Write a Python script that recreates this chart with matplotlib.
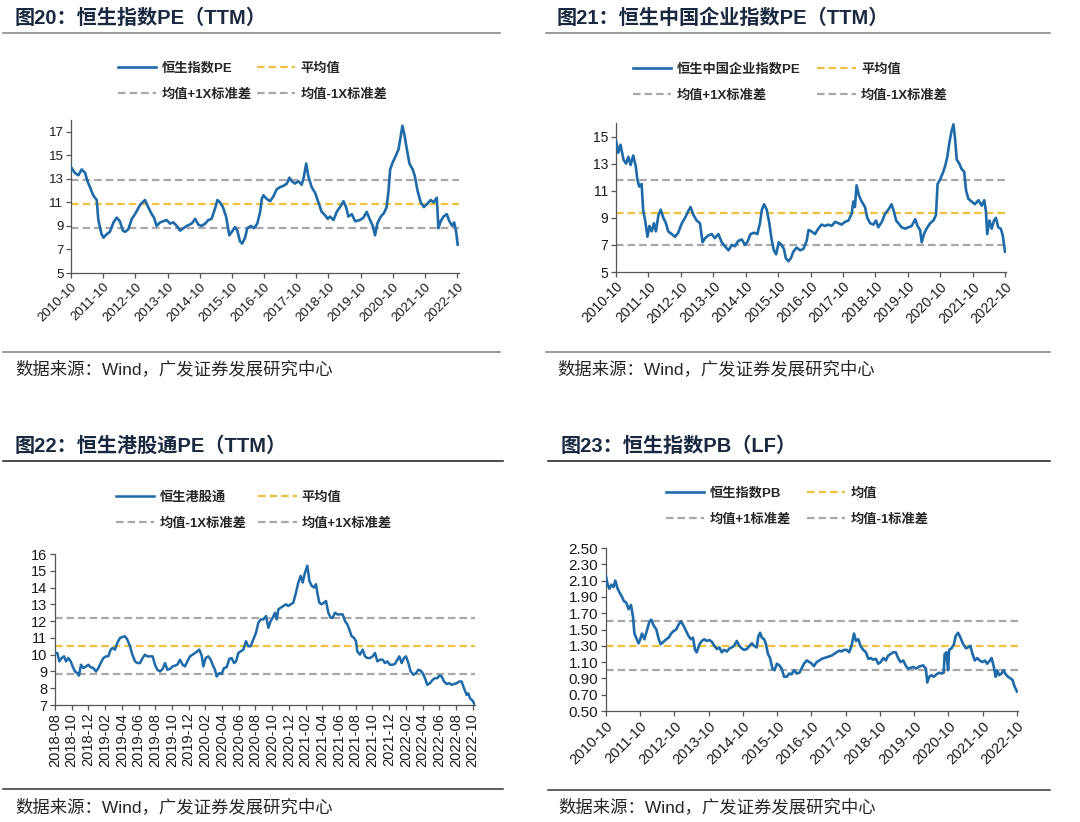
import matplotlib
matplotlib.use("Agg")
import matplotlib.pyplot as plt
from matplotlib.lines import Line2D

plt.rcParams["font.family"] = ["Liberation Sans", "Noto Sans CJK SC", "DejaVu Sans"]

# ---------------- data ----------------
# 图20 恒生指数PE(TTM), x = 年份(小数)
hsi_pe_t = [2010.75, 2010.87, 2010.98, 2011.08, 2011.19, 2011.26, 2011.34, 2011.44, 2011.55, 2011.60,
            2011.70, 2011.76, 2011.86, 2011.96, 2012.07, 2012.17, 2012.27, 2012.36, 2012.43, 2012.53,
            2012.64, 2012.74, 2012.90, 2013.05, 2013.15, 2013.26, 2013.33, 2013.41, 2013.52, 2013.62,
            2013.72, 2013.83, 2013.93, 2014.04, 2014.14, 2014.24, 2014.35, 2014.50, 2014.61, 2014.71,
            2014.81, 2014.92, 2015.02, 2015.12, 2015.23, 2015.30, 2015.38, 2015.47, 2015.57, 2015.67,
            2015.75, 2015.85, 2015.92, 2016.00, 2016.07, 2016.16, 2016.23, 2016.34, 2016.44, 2016.54,
            2016.63, 2016.68, 2016.73, 2016.83, 2016.94, 2017.04, 2017.14, 2017.25, 2017.35, 2017.46,
            2017.54, 2017.61, 2017.71, 2017.82, 2017.92, 2017.99, 2018.06, 2018.13, 2018.23, 2018.34,
            2018.44, 2018.54, 2018.65, 2018.73, 2018.80, 2018.91, 2019.01, 2019.11, 2019.22, 2019.30,
            2019.37, 2019.48, 2019.58, 2019.73, 2019.84, 2019.94, 2020.03, 2020.13, 2020.20, 2020.27,
            2020.38, 2020.48, 2020.56, 2020.62, 2020.67, 2020.75, 2020.82, 2020.93, 2020.98, 2021.05,
            2021.11, 2021.19, 2021.27, 2021.37, 2021.44, 2021.52, 2021.62, 2021.72, 2021.83, 2021.93,
            2022.02, 2022.12, 2022.17, 2022.24, 2022.33, 2022.43, 2022.51, 2022.60, 2022.66, 2022.72,
            2022.77]
hsi_pe = [14.0, 13.5, 13.3, 13.8, 13.5, 12.8, 12.3, 11.6, 11.2, 9.5,
          8.3, 8.0, 8.3, 8.5, 9.3, 9.7, 9.4, 8.6, 8.5, 8.7,
          9.6, 10.0, 10.8, 11.2, 10.6, 10.0, 9.7, 9.0, 9.3, 9.4,
          9.5, 9.2, 9.3, 9.0, 8.6, 8.8, 9.0, 9.2, 9.6, 9.1,
          9.0, 9.2, 9.5, 9.6, 10.5, 11.2, 11.0, 10.6, 9.8, 8.2,
          8.5, 8.9, 8.6, 7.7, 7.5, 8.0, 8.8, 9.0, 8.8, 9.2,
          10.2, 11.3, 11.6, 11.3, 11.1, 11.5, 12.1, 12.3, 12.4, 12.6,
          13.1, 12.8, 12.6, 12.8, 12.5, 13.2, 14.3, 13.2, 12.3, 11.8,
          11.0, 10.2, 9.9, 9.6, 9.8, 9.5, 10.2, 10.6, 11.1, 10.6,
          9.8, 10.0, 9.4, 9.5, 9.7, 10.2, 9.6, 9.0, 8.2, 9.2,
          9.8, 10.1, 10.6, 12.0, 13.8, 14.4, 14.8, 15.5, 16.3, 17.5,
          16.8, 15.5, 14.3, 13.8, 13.2, 12.0, 11.0, 10.6, 10.9, 11.2,
          11.0, 11.4, 8.8, 9.4, 9.8, 10.0, 9.4, 9.0, 9.3, 8.5,
          7.4]
hsi_pe_stats = [10.86, 12.92, 8.85]   # 均值, +1X, -1X

# 图21 恒生中国企业指数PE(TTM)
hscei_t = [2010.75, 2010.82, 2010.89, 2010.98, 2011.06, 2011.13, 2011.20, 2011.28, 2011.36, 2011.41,
           2011.47, 2011.54, 2011.59, 2011.65, 2011.72, 2011.78, 2011.85, 2011.92, 2011.98, 2012.06,
           2012.13, 2012.21, 2012.29, 2012.36, 2012.47, 2012.57, 2012.67, 2012.78, 2012.88, 2012.98,
           2013.05, 2013.14, 2013.24, 2013.34, 2013.42, 2013.50, 2013.60, 2013.70, 2013.80, 2013.91,
           2014.01, 2014.11, 2014.22, 2014.32, 2014.42, 2014.52, 2014.63, 2014.73, 2014.80, 2014.90,
           2015.01, 2015.11, 2015.19, 2015.25, 2015.32, 2015.40, 2015.48, 2015.55, 2015.62, 2015.69,
           2015.77, 2015.85, 2015.93, 2015.99, 2016.07, 2016.14, 2016.22, 2016.32, 2016.43, 2016.53,
           2016.63, 2016.69, 2016.78, 2016.89, 2016.99, 2017.09, 2017.20, 2017.30, 2017.40, 2017.51,
           2017.61, 2017.71, 2017.81, 2017.92, 2018.02, 2018.07, 2018.12, 2018.17, 2018.25, 2018.33,
           2018.43, 2018.50, 2018.59, 2018.69, 2018.77, 2018.84, 2018.95, 2019.05, 2019.15, 2019.25,
           2019.33, 2019.39, 2019.46, 2019.56, 2019.67, 2019.77, 2019.87, 2019.98, 2020.05, 2020.13,
           2020.18, 2020.25, 2020.33, 2020.44, 2020.54, 2020.62, 2020.67, 2020.74, 2020.83, 2020.90,
           2020.97, 2021.03, 2021.10, 2021.16, 2021.21, 2021.26, 2021.34, 2021.41, 2021.49, 2021.55,
           2021.62, 2021.72, 2021.82, 2021.93, 2022.03, 2022.11, 2022.16, 2022.20, 2022.27, 2022.34,
           2022.41, 2022.47, 2022.54, 2022.62, 2022.68, 2022.75]
hscei_pe = [14.7, 13.8, 14.4, 13.3, 13.0, 13.5, 12.9, 13.6, 12.8, 11.8,
            11.3, 11.5, 9.5, 8.8, 7.6, 8.4, 8.0, 8.6, 8.0, 9.2,
            9.6, 9.0, 8.6, 8.0, 7.8, 7.6, 7.9, 8.6, 9.0, 9.5,
            9.8, 9.2, 8.8, 8.6, 7.2, 7.5, 7.7, 7.8, 7.5, 7.8,
            7.2, 6.9, 6.6, 7.0, 6.9, 7.3, 7.4, 7.0, 7.2, 7.8,
            7.9, 7.8, 8.6, 9.6, 10.0, 9.6, 8.6, 7.4, 6.6, 6.3,
            7.2, 7.0, 6.7, 6.0, 5.8, 6.0, 6.5, 6.8, 6.6, 6.7,
            7.3, 8.1, 8.0, 7.8, 8.2, 8.5, 8.4, 8.5, 8.4, 8.7,
            8.6, 8.5, 8.7, 8.8, 9.3, 10.2, 9.8, 11.4, 10.6, 10.2,
            9.8, 9.0, 8.6, 8.5, 8.8, 8.3, 8.7, 9.3, 9.6, 10.0,
            9.4, 8.8, 8.6, 8.3, 8.2, 8.3, 8.4, 8.9, 8.4, 8.1,
            7.2, 7.8, 8.2, 8.6, 8.8, 9.2, 11.5, 11.8, 12.3, 12.8,
            13.5, 14.5, 15.4, 15.9, 14.8, 13.3, 13.0, 12.6, 12.4, 11.0,
            10.4, 10.2, 10.0, 10.3, 9.9, 10.3, 9.5, 7.8, 8.8, 8.2,
            8.8, 9.0, 8.3, 8.2, 7.7, 6.5]
hscei_stats = [9.37, 11.78, 6.97]

# 图22 恒生港股通PE(TTM), x = 自2018-08起的月数
hk_months = [0.00, 0.28, 0.52, 0.80, 1.08, 1.32, 1.60, 1.88, 2.11, 2.39,
             2.67, 2.87, 3.11, 3.39, 3.71, 3.99, 4.27, 4.59, 4.91, 5.19,
             5.47, 5.79, 6.11, 6.38, 6.66, 6.90, 7.18, 7.46, 7.78, 8.10,
             8.38, 8.66, 8.98, 9.26, 9.58, 9.86, 10.18, 10.49, 10.77, 11.05,
             11.37, 11.69, 11.97, 12.25, 12.57, 12.89, 13.17, 13.45, 13.77, 14.09,
             14.37, 14.64, 14.96, 15.28, 15.56, 15.84, 16.16, 16.48, 16.76, 17.04,
             17.28, 17.56, 17.76, 18.04, 18.36, 18.64, 18.87, 19.15, 19.35, 19.67,
             19.95, 20.23, 20.55, 20.87, 21.15, 21.43, 21.67, 21.95, 22.23, 22.55,
             22.86, 23.14, 23.42, 23.74, 24.06, 24.34, 24.62, 24.94, 25.26, 25.54,
             25.82, 26.06, 26.34, 26.54, 26.74, 27.02, 27.33, 27.65, 27.93, 28.21,
             28.53, 28.85, 29.13, 29.41, 29.65, 29.93, 30.21, 30.45, 30.73, 31.01,
             31.24, 31.40, 31.64, 31.92, 32.20, 32.44, 32.72, 33.00, 33.24, 33.52,
             33.80, 34.12, 34.44, 34.72, 35.00, 35.24, 35.51, 35.79, 36.03, 36.19,
             36.51, 36.83, 37.11, 37.39, 37.71, 38.03, 38.31, 38.59, 38.91, 39.23,
             39.50, 39.78, 40.10, 40.42, 40.70, 40.98, 41.22, 41.50, 41.78, 42.02,
             42.30, 42.58, 42.90, 43.22, 43.50, 43.77, 44.01, 44.29, 44.57, 44.89,
             45.21, 45.49, 45.77, 46.01, 46.29, 46.57, 46.89, 47.21, 47.49, 47.77,
             48.09, 48.40, 48.68, 48.96, 49.28, 49.48, 49.68, 50.00, 50.28]
hk_pe = [10.1, 10.1, 9.6, 9.8, 9.9, 9.6, 9.8, 9.6, 9.3, 9.0,
         8.9, 8.75, 9.4, 9.2, 9.3, 9.4, 9.25, 9.2, 9.0, 9.2,
         9.5, 9.8, 9.9, 9.9, 10.3, 10.4, 10.3, 10.7, 11.0, 11.05,
         11.1, 10.9, 10.5, 10.0, 9.6, 9.5, 9.5, 9.8, 10.0, 9.9,
         9.9, 9.9, 9.4, 9.1, 9.0, 9.15, 9.5, 9.1, 9.15, 9.3,
         9.35, 9.4, 9.7, 9.4, 9.3, 9.6, 9.9, 10.0, 10.1, 10.2,
         10.3, 9.95, 9.3, 9.8, 9.9, 9.7, 9.4, 9.1, 8.7, 8.9,
         8.85, 9.2, 9.25, 9.75, 9.8, 9.5, 9.6, 10.1, 10.2, 10.3,
         10.8, 10.5, 10.5, 10.9, 11.3, 11.9, 12.1, 12.1, 12.3, 11.6,
         12.0, 12.2, 12.5, 12.1, 12.7, 12.8, 12.9, 13.0, 12.9, 13.0,
         13.1, 13.7, 14.3, 14.7, 14.3, 14.9, 15.3, 14.4, 14.1, 14.0,
         14.2, 13.7, 13.1, 13.0, 13.1, 13.2, 12.5, 12.2, 12.2, 12.5,
         12.4, 12.4, 12.4, 12.0, 11.8, 11.5, 11.1, 11.0, 10.8, 10.2,
         10.0, 10.3, 9.9, 9.8, 9.8, 9.9, 10.1, 9.6, 9.7, 9.7,
         9.5, 9.6, 9.4, 9.4, 9.45, 9.7, 9.9, 9.5, 9.8, 9.9,
         9.5, 9.0, 8.8, 8.9, 9.1, 9.05, 8.9, 8.6, 8.2, 8.3,
         8.5, 8.6, 8.6, 8.75, 8.7, 8.4, 8.25, 8.3, 8.2, 8.25,
         8.3, 8.4, 8.4, 8.0, 7.6, 7.7, 7.4, 7.25, 7.0]
hk_stats = [10.52, 12.19, 8.85]

# 图23 恒生指数PB(LF)
hsi_pb_t = [2010.75, 2010.80, 2010.85, 2010.91, 2010.97, 2011.02, 2011.09, 2011.15, 2011.22, 2011.27,
            2011.34, 2011.41, 2011.48, 2011.54, 2011.58, 2011.63, 2011.70, 2011.75, 2011.80, 2011.87,
            2011.95, 2012.02, 2012.07, 2012.14, 2012.22, 2012.29, 2012.35, 2012.43, 2012.51, 2012.58,
            2012.65, 2012.72, 2012.80, 2012.87, 2012.94, 2013.01, 2013.09, 2013.16, 2013.23, 2013.29,
            2013.35, 2013.40, 2013.48, 2013.55, 2013.62, 2013.69, 2013.77, 2013.84, 2013.91, 2013.99,
            2014.06, 2014.13, 2014.20, 2014.28, 2014.36, 2014.42, 2014.49, 2014.57, 2014.64, 2014.71,
            2014.78, 2014.86, 2014.94, 2015.01, 2015.07, 2015.15, 2015.20, 2015.25, 2015.30, 2015.37,
            2015.42, 2015.48, 2015.54, 2015.61, 2015.67, 2015.74, 2015.81, 2015.88, 2015.95, 2016.03,
            2016.10, 2016.17, 2016.24, 2016.32, 2016.40, 2016.46, 2016.53, 2016.61, 2016.69, 2016.76,
            2016.82, 2016.90, 2016.98, 2017.05, 2017.12, 2017.19, 2017.27, 2017.34, 2017.41, 2017.48,
            2017.56, 2017.63, 2017.70, 2017.78, 2017.85, 2017.92, 2017.99, 2018.05, 2018.12, 2018.18,
            2018.26, 2018.34, 2018.41, 2018.48, 2018.55, 2018.63, 2018.70, 2018.77, 2018.85, 2018.92,
            2018.99, 2019.06, 2019.14, 2019.21, 2019.28, 2019.35, 2019.43, 2019.51, 2019.57, 2019.64,
            2019.72, 2019.80, 2019.87, 2019.93, 2020.01, 2020.09, 2020.13, 2020.19, 2020.25, 2020.32,
            2020.40, 2020.48, 2020.55, 2020.61, 2020.64, 2020.69, 2020.74, 2020.77, 2020.84, 2020.91,
            2020.96, 2021.03, 2021.10, 2021.18, 2021.26, 2021.32, 2021.39, 2021.45, 2021.52, 2021.59,
            2021.66, 2021.74, 2021.81, 2021.88, 2021.96, 2022.01, 2022.07, 2022.13, 2022.17, 2022.23,
            2022.30, 2022.36, 2022.42, 2022.49, 2022.56, 2022.62, 2022.68, 2022.75]
hsi_pb = [2.15, 2.05, 2.0, 2.05, 2.02, 2.10, 2.0, 1.95, 1.9, 1.85,
          1.83, 1.75, 1.8, 1.65, 1.45, 1.4, 1.33, 1.38, 1.45, 1.38,
          1.5, 1.6, 1.62, 1.55, 1.5, 1.38, 1.32, 1.35, 1.38, 1.4,
          1.45, 1.48, 1.5, 1.56, 1.6, 1.55, 1.48, 1.42, 1.38, 1.4,
          1.25, 1.22, 1.32, 1.36, 1.38, 1.36, 1.37, 1.35, 1.3, 1.26,
          1.28, 1.22, 1.25, 1.23, 1.27, 1.28, 1.3, 1.36, 1.3, 1.27,
          1.25, 1.26, 1.3, 1.33, 1.3, 1.28, 1.42, 1.46, 1.4, 1.38,
          1.32, 1.2, 1.15, 1.02, 1.0, 1.08, 1.06, 1.02, 0.92, 0.92,
          0.96, 0.95, 1.0, 0.96, 0.97, 1.02, 1.08, 1.12, 1.1, 1.08,
          1.05, 1.1, 1.12, 1.14, 1.15, 1.16, 1.17, 1.18, 1.2, 1.22,
          1.24, 1.23, 1.25, 1.25, 1.22, 1.3, 1.45, 1.36, 1.38, 1.3,
          1.25, 1.22, 1.14, 1.15, 1.13, 1.14, 1.08, 1.1, 1.15, 1.12,
          1.18, 1.2, 1.22, 1.22, 1.15, 1.1, 1.12, 1.05, 1.02, 1.03,
          1.04, 1.02, 1.04, 1.05, 1.06, 1.02, 0.85, 0.92, 0.94, 0.92,
          0.95, 0.97, 0.96, 0.97, 1.2, 1.22, 1.0, 1.25, 1.27, 1.32,
          1.42, 1.46, 1.4, 1.32, 1.27, 1.28, 1.3, 1.2, 1.12, 1.15,
          1.12, 1.1, 1.12, 1.08, 1.12, 1.15, 1.05, 0.92, 1.0, 0.94,
          0.96, 1.0, 0.95, 0.92, 0.9, 0.88, 0.8, 0.74]
hsi_pb_stats = [1.30, 1.60, 1.00]

year_labels = ["2010-10", "2011-10", "2012-10", "2013-10", "2014-10", "2015-10", "2016-10",
               "2017-10", "2018-10", "2019-10", "2020-10", "2021-10", "2022-10"]
year_ticks = [2010.75 + i for i in range(len(year_labels))]
hk_labels = ["2018-08", "2018-10", "2018-12", "2019-02", "2019-04", "2019-06", "2019-08",
             "2019-10", "2019-12", "2020-02", "2020-04", "2020-06", "2020-08", "2020-10",
             "2020-12", "2021-02", "2021-04", "2021-06", "2021-08", "2021-10", "2021-12",
             "2022-02", "2022-04", "2022-06", "2022-08", "2022-10"]
hk_ticks = [2 * i for i in range(len(hk_labels))]

titles = ["图20：恒生指数PE（TTM）", "图21：恒生中国企业指数PE（TTM）",
          "图22：恒生港股通PE（TTM）", "图23：恒生指数PB（LF）"]
source = "数据来源：Wind，广发证券发展研究中心"

# ---------------- drawing ----------------
W, H = 1080, 822
fig = plt.figure(figsize=(W / 100, H / 100), dpi=100)

BLUE = "#1f6aa8"
GOLD = "#f0c240"
GREY = "#a8a8a8"
AXC = "#555555"
NAVY = "#1a2940"
DASH = (0, (3.4, 1.8))


def rect(l, t, r, b):
    return [l / W, 1 - b / H, (r - l) / W, (b - t) / H]


def rule(x0, x1, y, color):
    fig.add_artist(Line2D([x0 / W, x1 / W], [1 - y / H, 1 - y / H],
                          transform=fig.transFigure, color=color, lw=1.1))


def panel(box, x, y, stats, xlim, ylim, yticks, ylabels, xticks, xlabels, rot, fs, yfs, lw):
    ax = fig.add_axes(rect(*box))
    line, = ax.plot(x, y, color=BLUE, lw=lw, zorder=3, solid_joinstyle="round")
    mean = ax.axhline(stats[0], color=GOLD, lw=1.6, ls=DASH, zorder=2)
    up = ax.axhline(stats[1], color=GREY, lw=1.6, ls=DASH, zorder=2)
    dn = ax.axhline(stats[2], color=GREY, lw=1.6, ls=DASH, zorder=2)
    ax.set_xlim(*xlim)
    ax.set_ylim(*ylim)
    ax.set_yticks(yticks)
    ax.set_yticklabels(ylabels)
    ax.set_xticks(xticks)
    if rot == 45:
        ax.set_xticklabels(xlabels, rotation=45, ha="right", rotation_mode="anchor")
    else:
        ax.set_xticklabels(xlabels, rotation=90)
    for s in ["top", "right"]:
        ax.spines[s].set_visible(False)
    for s in ["left", "bottom"]:
        ax.spines[s].set_color(AXC)
        ax.spines[s].set_linewidth(0.9)
    ax.tick_params(direction="out", length=3.5, width=0.9, color=AXC,
                   labelsize=fs, labelcolor="#1a1a1a", pad=2)
    ax.tick_params(axis="y", labelsize=yfs)
    return ax, line, mean, up, dn


def legend(ax, handles, labels, x, y, colsp):
    ax.legend(handles, labels, ncol=2, loc="upper left",
              bbox_to_anchor=(x / W, 1 - y / H), bbox_transform=fig.transFigure,
              frameon=False, prop={"size": 9.5, "weight": "bold"}, handlelength=2.9,
              handletextpad=0.4, columnspacing=colsp, labelspacing=1.05,
              borderpad=0, borderaxespad=0, labelcolor="#262626")


pe_ylab = lambda ticks: [str(t) for t in ticks]

# 图20
t20 = list(range(5, 18, 2))
ax, ln, mn, up, dn = panel((71, 120, 459, 273), hsi_pe_t, hsi_pe, hsi_pe_stats,
                           (2010.75, 2022.81), (5, 18), t20, pe_ylab(t20),
                           year_ticks, year_labels, 45, 9.5, 9.5, 1.9)
legend(ax, [ln, up, mn, dn], ["恒生指数PE", "均值+1X标准差", "平均值", "均值-1X标准差"],
       118, 62, 0.4)

# 图21
t21 = list(range(5, 16, 2))
ax, ln, mn, up, dn = panel((616, 123, 1006, 272), hscei_t, hscei_pe, hscei_stats,
                           (2010.75, 2022.78), (5, 16), t21, pe_ylab(t21),
                           year_ticks, year_labels, 45, 10, 10, 1.9)
legend(ax, [ln, up, mn, dn], ["恒生中国企业指数PE", "均值+1X标准差", "平均值", "均值-1X标准差"],
       633, 63, 1.3)

# 图22
t22 = list(range(7, 17))
ax, ln, mn, up, dn = panel((55, 554, 475, 705), hk_months, hk_pe, hk_stats,
                           (0, 50.28), (7, 16), t22, pe_ylab(t22),
                           hk_ticks, hk_labels, 90, 10.5, 10.5, 1.8)
legend(ax, [ln, dn, mn, up], ["恒生港股通", "均值-1X标准差", "平均值", "均值+1X标准差"],
       116, 491, 0.9)

# 图23
t23 = [0.5 + 0.2 * i for i in range(11)]
ax, ln, mn, up, dn = panel((606, 548, 1018, 711), hsi_pb_t, hsi_pb, hsi_pb_stats,
                           (2010.75, 2022.78), (0.5, 2.5), t23, [f"{t:.2f}" for t in t23],
                           year_ticks, year_labels, 45, 10.5, 11, 1.9)
legend(ax, [ln, up, mn, dn], ["恒生指数PB", "均值+1标准差", "均值", "均值-1标准差"],
       666, 487, 1.2)

# 标题、分隔线、数据来源
for (tx, ty), title in zip([(15, 18), (557, 18), (15, 446), (561, 446)], titles):
    fig.text(tx / W, 1 - ty / H, title, fontsize=14.5, fontweight="bold",
             color=NAVY, va="center", ha="left")

rule(3, 500, 33.5, "#7f7f7f")
rule(546, 1050, 33.5, "#7f7f7f")
rule(3, 503, 461, "#1a1a1a")
rule(548, 1050, 461, "#1a1a1a")
rule(3, 500, 352.5, "#7f7f7f")
rule(546, 1050, 352.5, "#7f7f7f")
rule(3, 503, 789, "#333333")
rule(548, 1050, 790, "#333333")

for sx, sy in [(15, 369), (557, 369), (15, 807), (558, 807)]:
    fig.text(sx / W, 1 - sy / H, source, fontsize=12.5, color="#262626",
             va="center", ha="left")

fig.savefig("out.png", dpi=100)
